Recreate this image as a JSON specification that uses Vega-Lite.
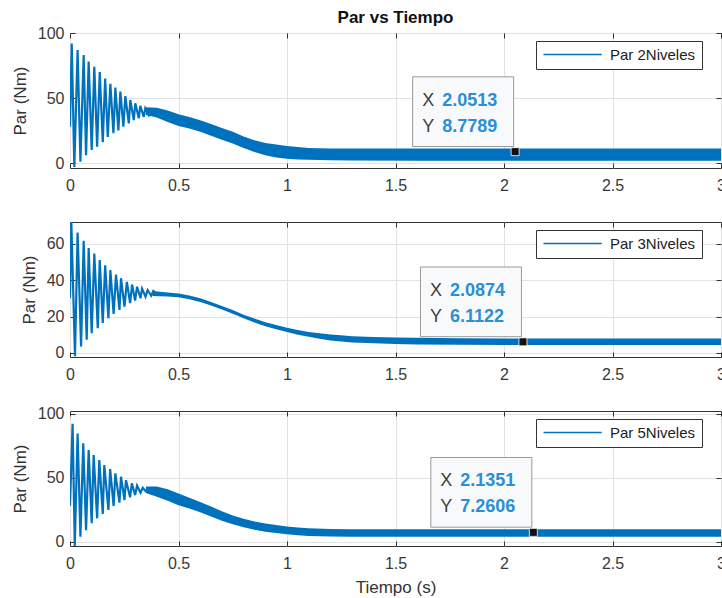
{
  "$schema": "https://vega.github.io/schema/vega-lite/v6.json",
  "background": "white",
  "padding": {"left": 10, "top": 8, "right": 0, "bottom": 0},
  "config": {
    "font": "Liberation Sans",
    "view": {"stroke": "#333333", "strokeWidth": 1},
    "axis": {
      "domain": false,
      "tickSize": -5,
      "tickColor": "#333333",
      "labelFont": "Liberation Sans",
      "labelFontSize": 16,
      "labelColor": "#383838",
      "labelFlush": false,
      "titleFont": "Liberation Sans",
      "titleFontSize": 17,
      "titleFontWeight": "normal",
      "titleColor": "#333333",
      "gridColor": "#e2e2e2"
    },
    "axisX": {"labelPadding": 14},
    "axisY": {"labelPadding": 11}
  },
  "datasets": {
    "osc1": [
      {"t": 0.0, "v": 28}, {"t": 0.008, "v": 92}, {"t": 0.02, "v": -3}, {"t": 0.035, "v": 87},
      {"t": 0.048, "v": 1}, {"t": 0.063, "v": 83}, {"t": 0.074, "v": 6}, {"t": 0.086, "v": 78},
      {"t": 0.1, "v": 10}, {"t": 0.112, "v": 74}, {"t": 0.125, "v": 12.5}, {"t": 0.137, "v": 70},
      {"t": 0.151, "v": 16}, {"t": 0.162, "v": 65}, {"t": 0.174, "v": 20}, {"t": 0.186, "v": 61},
      {"t": 0.2, "v": 23}, {"t": 0.209, "v": 58}, {"t": 0.223, "v": 25}, {"t": 0.232, "v": 55},
      {"t": 0.246, "v": 28}, {"t": 0.255, "v": 51.5}, {"t": 0.271, "v": 30.5}, {"t": 0.278, "v": 48.5},
      {"t": 0.294, "v": 33}, {"t": 0.301, "v": 46}, {"t": 0.317, "v": 34.5}, {"t": 0.324, "v": 44},
      {"t": 0.34, "v": 35.5}, {"t": 0.347, "v": 42}, {"t": 0.363, "v": 37}, {"t": 0.37, "v": 41},
      {"t": 0.385, "v": 38}, {"t": 0.392, "v": 40}, {"t": 0.4, "v": 38.5}
    ],
    "band1": [
      {"t": 0.35, "lo": 37, "hi": 43}, {"t": 0.4, "lo": 35, "hi": 42.5}, {"t": 0.45, "lo": 31.5, "hi": 40.5},
      {"t": 0.5, "lo": 28.5, "hi": 37.5}, {"t": 0.55, "lo": 26.5, "hi": 35.5}, {"t": 0.6, "lo": 24, "hi": 33},
      {"t": 0.65, "lo": 21, "hi": 30}, {"t": 0.7, "lo": 18, "hi": 27}, {"t": 0.75, "lo": 15, "hi": 24},
      {"t": 0.8, "lo": 11.5, "hi": 20.5}, {"t": 0.85, "lo": 8.5, "hi": 17.5}, {"t": 0.9, "lo": 6, "hi": 15.5},
      {"t": 0.95, "lo": 4.3, "hi": 14.3}, {"t": 1.0, "lo": 3.3, "hi": 13.1}, {"t": 1.05, "lo": 2.8, "hi": 12.3},
      {"t": 1.1, "lo": 2.5, "hi": 11.6}, {"t": 1.2, "lo": 2.2, "hi": 11.2}, {"t": 1.3, "lo": 2, "hi": 11.1},
      {"t": 1.6, "lo": 1.8, "hi": 11.1}, {"t": 2.0, "lo": 1.8, "hi": 11.2}, {"t": 2.4, "lo": 1.8, "hi": 11.1},
      {"t": 2.8, "lo": 1.8, "hi": 11.1}, {"t": 3.0, "lo": 1.8, "hi": 11.1}
    ],
    "tip1": [{"t": 2.0513, "v": 8.7789, "xs": "2.0513", "ys": "8.7789"}],
    "osc2": [
      {"t": 0.0, "v": 30}, {"t": 0.006, "v": 72}, {"t": 0.023, "v": -1.8}, {"t": 0.035, "v": 66},
      {"t": 0.051, "v": 3.6}, {"t": 0.063, "v": 61.5}, {"t": 0.077, "v": 7.3}, {"t": 0.086, "v": 57.5},
      {"t": 0.1, "v": 10.9}, {"t": 0.112, "v": 54.5}, {"t": 0.128, "v": 13.6}, {"t": 0.137, "v": 51},
      {"t": 0.151, "v": 16.4}, {"t": 0.162, "v": 48}, {"t": 0.177, "v": 19}, {"t": 0.186, "v": 45.5},
      {"t": 0.201, "v": 21.4}, {"t": 0.212, "v": 43}, {"t": 0.228, "v": 23.6}, {"t": 0.235, "v": 41},
      {"t": 0.251, "v": 25.4}, {"t": 0.262, "v": 39}, {"t": 0.277, "v": 27.3}, {"t": 0.286, "v": 37.5},
      {"t": 0.3, "v": 28.7}, {"t": 0.309, "v": 36.3}, {"t": 0.325, "v": 30}, {"t": 0.332, "v": 35.3},
      {"t": 0.348, "v": 30.9}, {"t": 0.358, "v": 34.5}, {"t": 0.374, "v": 31.4}, {"t": 0.384, "v": 34},
      {"t": 0.4, "v": 32.5}
    ],
    "band2": [
      {"t": 0.38, "lo": 31.3, "hi": 34}, {"t": 0.45, "lo": 31, "hi": 33.2}, {"t": 0.5, "lo": 30.6, "hi": 32.6},
      {"t": 0.55, "lo": 29.5, "hi": 31.5}, {"t": 0.6, "lo": 28, "hi": 30}, {"t": 0.65, "lo": 26, "hi": 28},
      {"t": 0.7, "lo": 23.8, "hi": 25.8}, {"t": 0.75, "lo": 21.5, "hi": 23.5}, {"t": 0.8, "lo": 19, "hi": 21},
      {"t": 0.85, "lo": 16.7, "hi": 18.9}, {"t": 0.9, "lo": 14.7, "hi": 16.9}, {"t": 0.95, "lo": 13, "hi": 15.4},
      {"t": 1.0, "lo": 11.5, "hi": 13.9}, {"t": 1.05, "lo": 10, "hi": 12.6}, {"t": 1.1, "lo": 8.9, "hi": 11.5},
      {"t": 1.15, "lo": 7.8, "hi": 10.8}, {"t": 1.2, "lo": 6.9, "hi": 10.1}, {"t": 1.25, "lo": 6.3, "hi": 9.7},
      {"t": 1.3, "lo": 5.8, "hi": 9.2}, {"t": 1.4, "lo": 5.3, "hi": 8.7}, {"t": 1.5, "lo": 4.9, "hi": 8.5},
      {"t": 1.6, "lo": 4.7, "hi": 8.3}, {"t": 1.8, "lo": 4.5, "hi": 8.1}, {"t": 2.0, "lo": 4.4, "hi": 8},
      {"t": 2.4, "lo": 4.4, "hi": 8}, {"t": 2.8, "lo": 4.4, "hi": 8}, {"t": 3.0, "lo": 4.4, "hi": 8}
    ],
    "tip2": [{"t": 2.0874, "v": 6.1122, "xs": "2.0874", "ys": "6.1122"}],
    "osc3": [
      {"t": 0.0, "v": 28}, {"t": 0.012, "v": 92}, {"t": 0.022, "v": -3.5}, {"t": 0.035, "v": 84.5},
      {"t": 0.048, "v": 3.9}, {"t": 0.061, "v": 76.7}, {"t": 0.074, "v": 9}, {"t": 0.086, "v": 71.5},
      {"t": 0.1, "v": 14.3}, {"t": 0.109, "v": 67.6}, {"t": 0.125, "v": 18.2}, {"t": 0.135, "v": 63.7},
      {"t": 0.151, "v": 21.6}, {"t": 0.158, "v": 59.8}, {"t": 0.177, "v": 24.7}, {"t": 0.185, "v": 56.7},
      {"t": 0.201, "v": 27.8}, {"t": 0.209, "v": 53.3}, {"t": 0.228, "v": 30.4}, {"t": 0.235, "v": 50.7},
      {"t": 0.251, "v": 32.5}, {"t": 0.258, "v": 48}, {"t": 0.277, "v": 34.6}, {"t": 0.285, "v": 45.5},
      {"t": 0.3, "v": 36.4}, {"t": 0.309, "v": 43.7}, {"t": 0.325, "v": 38.2}, {"t": 0.335, "v": 42},
      {"t": 0.348, "v": 39.5}, {"t": 0.361, "v": 41}, {"t": 0.375, "v": 40}
    ],
    "band3": [
      {"t": 0.35, "lo": 38, "hi": 43}, {"t": 0.4, "lo": 35, "hi": 43}, {"t": 0.45, "lo": 32, "hi": 41},
      {"t": 0.5, "lo": 28.5, "hi": 37.5}, {"t": 0.55, "lo": 25.8, "hi": 34.2}, {"t": 0.6, "lo": 23, "hi": 31},
      {"t": 0.65, "lo": 19.6, "hi": 27.4}, {"t": 0.7, "lo": 16.3, "hi": 23.7}, {"t": 0.75, "lo": 13.5, "hi": 20.5},
      {"t": 0.8, "lo": 11.2, "hi": 17.8}, {"t": 0.85, "lo": 9.2, "hi": 15.8}, {"t": 0.9, "lo": 7.8, "hi": 14.2},
      {"t": 0.95, "lo": 6.7, "hi": 12.9}, {"t": 1.0, "lo": 5.7, "hi": 11.9}, {"t": 1.05, "lo": 5, "hi": 11},
      {"t": 1.1, "lo": 4.5, "hi": 10.5}, {"t": 1.2, "lo": 4.1, "hi": 9.9}, {"t": 1.3, "lo": 3.9, "hi": 9.7},
      {"t": 1.6, "lo": 3.9, "hi": 9.7}, {"t": 2.0, "lo": 3.9, "hi": 9.7}, {"t": 2.4, "lo": 3.9, "hi": 9.7},
      {"t": 2.8, "lo": 3.9, "hi": 9.7}, {"t": 3.0, "lo": 3.9, "hi": 9.7}
    ],
    "tip3": [{"t": 2.1351, "v": 7.2606, "xs": "2.1351", "ys": "7.2606"}]
  },
  "vconcat": [
    {
      "width": 651,
      "height": 135,
      "title": {"text": "Par vs Tiempo", "fontSize": 17, "fontWeight": "bold", "color": "#111111", "offset": -2, "anchor": "middle", "font": "Liberation Sans"},
      "resolve": {"axis": {"x": "independent", "y": "independent"}},
      "layer": [
        {
          "data": {"name": "band1"},
          "mark": {"type": "area", "color": "#0072BD", "clip": true},
          "encoding": {
            "x": {"field": "t", "type": "quantitative", "scale": {"domain": [0, 3], "nice": false}, "axis": {"orient": "bottom", "values": [0, 0.5, 1, 1.5, 2, 2.5, 3], "format": "~g", "title": null, "grid": true}},
            "y": {"field": "lo", "type": "quantitative", "scale": {"domain": [-3.8, 100], "nice": false, "zero": false}, "axis": {"orient": "left", "values": [0, 50, 100], "title": "Par (Nm)", "grid": true, "titlePadding": 8}},
            "y2": {"field": "hi"}
          }
        },
        {
          "data": {"name": "osc1"},
          "mark": {"type": "line", "strokeWidth": 2.2, "clip": true},
          "encoding": {
            "x": {"field": "t", "type": "quantitative", "axis": {"orient": "top", "values": [0, 0.5, 1, 1.5, 2, 2.5, 3], "labels": false, "grid": false, "title": null}},
            "y": {"field": "v", "type": "quantitative", "axis": {"orient": "right", "values": [0, 50, 100], "labels": false, "grid": false, "title": null}},
            "color": {"datum": "Par 2Niveles", "type": "nominal", "scale": {"range": ["#0072BD"]},
              "legend": {"orient": "none", "legendX": 466, "legendY": 8, "title": null, "symbolType": "M-1,0H8.7", "symbolSize": 144, "symbolStrokeWidth": 1.5, "symbolStrokeColor": "#0072BD", "symbolOpacity": 1, "labelOffset": 53, "labelFontSize": 15, "labelFont": "Liberation Sans", "labelColor": "#222222", "strokeColor": "#333333", "fillColor": "white", "padding": 6, "cornerRadius": 0}}
          }
        },
        {
          "data": {"name": "tip1"},
          "mark": {"type": "point", "shape": "M-1,-0.69H1V0.69H-1Z", "size": 10201, "filled": true, "fill": "#f8f9fb", "stroke": "#9a9a9a", "strokeWidth": 1, "opacity": 1, "xOffset": -52, "yOffset": -40},
          "encoding": {"x": {"field": "t", "type": "quantitative", "axis": null}, "y": {"field": "v", "type": "quantitative", "axis": null}}
        },
        {
          "data": {"name": "tip1"},
          "mark": {"type": "text", "text": "X", "align": "left", "baseline": "middle", "fontSize": 18, "color": "#404040", "dx": -93, "dy": -51},
          "encoding": {"x": {"field": "t", "type": "quantitative", "axis": null}, "y": {"field": "v", "type": "quantitative", "axis": null}}
        },
        {
          "data": {"name": "tip1"},
          "mark": {"type": "text", "text": "Y", "align": "left", "baseline": "middle", "fontSize": 18, "color": "#404040", "dx": -93, "dy": -25},
          "encoding": {"x": {"field": "t", "type": "quantitative", "axis": null}, "y": {"field": "v", "type": "quantitative", "axis": null}}
        },
        {
          "data": {"name": "tip1"},
          "mark": {"type": "text", "align": "left", "baseline": "middle", "fontSize": 18, "fontWeight": "bold", "color": "#2a8fd6", "dx": -73, "dy": -51},
          "encoding": {"x": {"field": "t", "type": "quantitative", "axis": null}, "y": {"field": "v", "type": "quantitative", "axis": null}, "text": {"field": "xs"}}
        },
        {
          "data": {"name": "tip1"},
          "mark": {"type": "text", "align": "left", "baseline": "middle", "fontSize": 18, "fontWeight": "bold", "color": "#2a8fd6", "dx": -73, "dy": -25},
          "encoding": {"x": {"field": "t", "type": "quantitative", "axis": null}, "y": {"field": "v", "type": "quantitative", "axis": null}, "text": {"field": "ys"}}
        },
        {
          "data": {"name": "tip1"},
          "mark": {"type": "point", "shape": "square", "size": 64, "filled": true, "fill": "#111111", "stroke": "white", "strokeWidth": 0.8, "opacity": 1},
          "encoding": {"x": {"field": "t", "type": "quantitative", "axis": null}, "y": {"field": "v", "type": "quantitative", "axis": null}}
        }
      ]
    },
    {
      "width": 651,
      "height": 135,
      "resolve": {"axis": {"x": "independent", "y": "independent"}},
      "layer": [
        {
          "data": {"name": "band2"},
          "mark": {"type": "area", "color": "#0072BD", "clip": true},
          "encoding": {
            "x": {"field": "t", "type": "quantitative", "scale": {"domain": [0, 3], "nice": false}, "axis": {"orient": "bottom", "values": [0, 0.5, 1, 1.5, 2, 2.5, 3], "format": "~g", "title": null, "grid": true}},
            "y": {"field": "lo", "type": "quantitative", "scale": {"domain": [-2.2, 71.8], "nice": false, "zero": false}, "axis": {"orient": "left", "values": [0, 20, 40, 60], "title": "Par (Nm)", "grid": true, "titlePadding": 8}},
            "y2": {"field": "hi"}
          }
        },
        {
          "data": {"name": "osc2"},
          "mark": {"type": "line", "strokeWidth": 2.2, "clip": true},
          "encoding": {
            "x": {"field": "t", "type": "quantitative", "axis": {"orient": "top", "values": [0, 0.5, 1, 1.5, 2, 2.5, 3], "labels": false, "grid": false, "title": null}},
            "y": {"field": "v", "type": "quantitative", "axis": {"orient": "right", "values": [0, 20, 40, 60], "labels": false, "grid": false, "title": null}},
            "color": {"datum": "Par 3Niveles", "type": "nominal", "scale": {"range": ["#0072BD"]},
              "legend": {"orient": "none", "legendX": 466, "legendY": 8, "title": null, "symbolType": "M-1,0H8.7", "symbolSize": 144, "symbolStrokeWidth": 1.5, "symbolStrokeColor": "#0072BD", "symbolOpacity": 1, "labelOffset": 53, "labelFontSize": 15, "labelFont": "Liberation Sans", "labelColor": "#222222", "strokeColor": "#333333", "fillColor": "white", "padding": 6, "cornerRadius": 0}}
          }
        },
        {
          "data": {"name": "tip2"},
          "mark": {"type": "point", "shape": "M-1,-0.69H1V0.69H-1Z", "size": 10201, "filled": true, "fill": "#f8f9fb", "stroke": "#9a9a9a", "strokeWidth": 1, "opacity": 1, "xOffset": -52, "yOffset": -40},
          "encoding": {"x": {"field": "t", "type": "quantitative", "axis": null}, "y": {"field": "v", "type": "quantitative", "axis": null}}
        },
        {
          "data": {"name": "tip2"},
          "mark": {"type": "text", "text": "X", "align": "left", "baseline": "middle", "fontSize": 18, "color": "#404040", "dx": -93, "dy": -51},
          "encoding": {"x": {"field": "t", "type": "quantitative", "axis": null}, "y": {"field": "v", "type": "quantitative", "axis": null}}
        },
        {
          "data": {"name": "tip2"},
          "mark": {"type": "text", "text": "Y", "align": "left", "baseline": "middle", "fontSize": 18, "color": "#404040", "dx": -93, "dy": -25},
          "encoding": {"x": {"field": "t", "type": "quantitative", "axis": null}, "y": {"field": "v", "type": "quantitative", "axis": null}}
        },
        {
          "data": {"name": "tip2"},
          "mark": {"type": "text", "align": "left", "baseline": "middle", "fontSize": 18, "fontWeight": "bold", "color": "#2a8fd6", "dx": -73, "dy": -51},
          "encoding": {"x": {"field": "t", "type": "quantitative", "axis": null}, "y": {"field": "v", "type": "quantitative", "axis": null}, "text": {"field": "xs"}}
        },
        {
          "data": {"name": "tip2"},
          "mark": {"type": "text", "align": "left", "baseline": "middle", "fontSize": 18, "fontWeight": "bold", "color": "#2a8fd6", "dx": -73, "dy": -25},
          "encoding": {"x": {"field": "t", "type": "quantitative", "axis": null}, "y": {"field": "v", "type": "quantitative", "axis": null}, "text": {"field": "ys"}}
        },
        {
          "data": {"name": "tip2"},
          "mark": {"type": "point", "shape": "square", "size": 64, "filled": true, "fill": "#111111", "stroke": "white", "strokeWidth": 0.8, "opacity": 1},
          "encoding": {"x": {"field": "t", "type": "quantitative", "axis": null}, "y": {"field": "v", "type": "quantitative", "axis": null}}
        }
      ]
    },
    {
      "width": 651,
      "height": 135,
      "resolve": {"axis": {"x": "independent", "y": "independent"}},
      "layer": [
        {
          "data": {"name": "band3"},
          "mark": {"type": "area", "color": "#0072BD", "clip": true},
          "encoding": {
            "x": {"field": "t", "type": "quantitative", "scale": {"domain": [0, 3], "nice": false}, "axis": {"orient": "bottom", "values": [0, 0.5, 1, 1.5, 2, 2.5, 3], "format": "~g", "title": "Tiempo (s)", "grid": true, "titlePadding": 8}},
            "y": {"field": "lo", "type": "quantitative", "scale": {"domain": [-3.4, 102], "nice": false, "zero": false}, "axis": {"orient": "left", "values": [0, 50, 100], "title": "Par (Nm)", "grid": true, "titlePadding": 8}},
            "y2": {"field": "hi"}
          }
        },
        {
          "data": {"name": "osc3"},
          "mark": {"type": "line", "strokeWidth": 2.2, "clip": true},
          "encoding": {
            "x": {"field": "t", "type": "quantitative", "axis": {"orient": "top", "values": [0, 0.5, 1, 1.5, 2, 2.5, 3], "labels": false, "grid": false, "title": null}},
            "y": {"field": "v", "type": "quantitative", "axis": {"orient": "right", "values": [0, 50, 100], "labels": false, "grid": false, "title": null}},
            "color": {"datum": "Par 5Niveles", "type": "nominal", "scale": {"range": ["#0072BD"]},
              "legend": {"orient": "none", "legendX": 466, "legendY": 8, "title": null, "symbolType": "M-1,0H8.7", "symbolSize": 144, "symbolStrokeWidth": 1.5, "symbolStrokeColor": "#0072BD", "symbolOpacity": 1, "labelOffset": 53, "labelFontSize": 15, "labelFont": "Liberation Sans", "labelColor": "#222222", "strokeColor": "#333333", "fillColor": "white", "padding": 6, "cornerRadius": 0}}
          }
        },
        {
          "data": {"name": "tip3"},
          "mark": {"type": "point", "shape": "M-1,-0.69H1V0.69H-1Z", "size": 10201, "filled": true, "fill": "#f8f9fb", "stroke": "#9a9a9a", "strokeWidth": 1, "opacity": 1, "xOffset": -52, "yOffset": -40},
          "encoding": {"x": {"field": "t", "type": "quantitative", "axis": null}, "y": {"field": "v", "type": "quantitative", "axis": null}}
        },
        {
          "data": {"name": "tip3"},
          "mark": {"type": "text", "text": "X", "align": "left", "baseline": "middle", "fontSize": 18, "color": "#404040", "dx": -93, "dy": -51},
          "encoding": {"x": {"field": "t", "type": "quantitative", "axis": null}, "y": {"field": "v", "type": "quantitative", "axis": null}}
        },
        {
          "data": {"name": "tip3"},
          "mark": {"type": "text", "text": "Y", "align": "left", "baseline": "middle", "fontSize": 18, "color": "#404040", "dx": -93, "dy": -25},
          "encoding": {"x": {"field": "t", "type": "quantitative", "axis": null}, "y": {"field": "v", "type": "quantitative", "axis": null}}
        },
        {
          "data": {"name": "tip3"},
          "mark": {"type": "text", "align": "left", "baseline": "middle", "fontSize": 18, "fontWeight": "bold", "color": "#2a8fd6", "dx": -73, "dy": -51},
          "encoding": {"x": {"field": "t", "type": "quantitative", "axis": null}, "y": {"field": "v", "type": "quantitative", "axis": null}, "text": {"field": "xs"}}
        },
        {
          "data": {"name": "tip3"},
          "mark": {"type": "text", "align": "left", "baseline": "middle", "fontSize": 18, "fontWeight": "bold", "color": "#2a8fd6", "dx": -73, "dy": -25},
          "encoding": {"x": {"field": "t", "type": "quantitative", "axis": null}, "y": {"field": "v", "type": "quantitative", "axis": null}, "text": {"field": "ys"}}
        },
        {
          "data": {"name": "tip3"},
          "mark": {"type": "point", "shape": "square", "size": 64, "filled": true, "fill": "#111111", "stroke": "white", "strokeWidth": 0.8, "opacity": 1},
          "encoding": {"x": {"field": "t", "type": "quantitative", "axis": null}, "y": {"field": "v", "type": "quantitative", "axis": null}}
        }
      ]
    }
  ],
  "spacing": 54,
  "bounds": "flush",
  "resolve": {"scale": {"color": "independent"}}
}
